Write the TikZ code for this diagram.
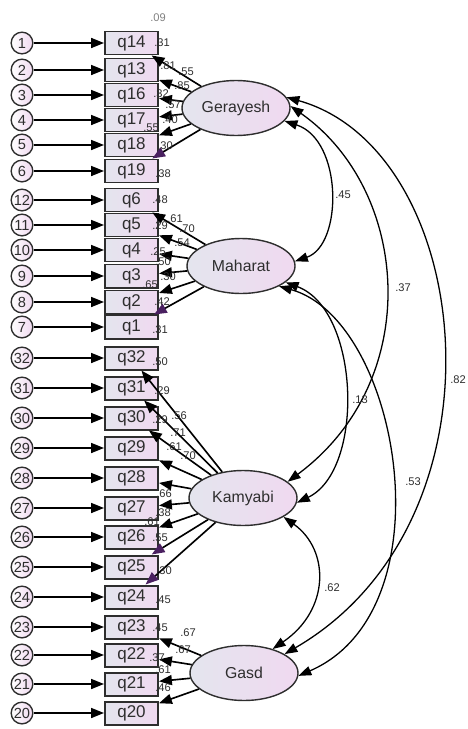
\documentclass[tikz,border=0pt]{standalone}
\usepackage{fontspec}
\setmainfont{Liberation Sans}
\usetikzlibrary{shapes.geometric,arrows.meta}
\definecolor{ink}{HTML}{2E2E2E}
\definecolor{fillL}{HTML}{E4E5EE}
\definecolor{fillR}{HTML}{F0D9F0}
\definecolor{headP}{HTML}{4A2060}
\begin{document}
\begin{tikzpicture}[x=0.03cm,y=-0.03cm,
    obsbox/.style={draw=ink,line width=1.7pt,left color=fillL,right color=fillR,
      minimum width=1.59cm,minimum height=0.69cm,inner sep=0pt,
      font=\fontsize{14.5}{16}\selectfont,text=ink},
    errc/.style={circle,draw=ink,line width=1.2pt,left color=white,right color=fillR,
      minimum size=0.65cm,inner sep=0pt,font=\fontsize{12.5}{13}\selectfont,text=ink},
    latent/.style={ellipse,draw=ink,line width=1.2pt,left color=fillL,right color=fillR,
      minimum width=3.24cm,minimum height=1.65cm,inner sep=0pt,
      font=\fontsize{13.5}{15}\selectfont,text=ink},
    arr/.style={line width=1.4pt,-{Triangle[length=11pt,width=8.5pt]}},
    parr/.style={line width=1.4pt,-{Triangle[length=11pt,width=8.5pt,color=headP]}},
    cov/.style={line width=1.1pt,{Triangle[length=11pt,width=8pt]}-{Triangle[length=11pt,width=8pt]}},
    val/.style={font=\fontsize{9.5}{10}\selectfont,text=ink,inner sep=0pt}]
  \useasboundingbox (0,0) rectangle (467,729);

  % error terms and observed items
  \foreach \y/\e/\q in {43/1/14,70/2/13,95/3/16,120/4/17,145/5/18,171/6/19,
      200/12/6,225/11/5,250/10/4,276/9/3,302/8/2,327/7/1,
      358/32/32,388/31/31,418/30/30,448/29/29,478/28/28,508/27/27,537/26/26,567/25/25,597/24/24,
      627/23/23,655/22/22,684/21/21,713/20/20}{
    \node[errc] (e\e) at (22,\y) {\e};
    \node[obsbox] (q\q) at (131.5,\y) {q\q};
    \draw[arr] (e\e) -- (q\q);
  }

  % latent factors
  \node[latent] (Ger) at (236,108) {Gerayesh};
  \node[latent] (Mah) at (241,266) {Maharat};
  \node[latent] (Kam) at (243,498) {Kamyabi};
  \node[latent] (Gas) at (244,673) {Gasd};

  % loadings
  \foreach \q in {14,13,16,17,18} \draw[arr] (Ger) -- (q\q);
  \draw[parr] (Ger) -- (q19);
  \foreach \q in {6,5,4,3,2} \draw[arr] (Mah) -- (q\q);
  \draw[parr] (Mah) -- (q1);
  \foreach \q in {32,31,30,29,28,27,26} \draw[arr] (Kam) -- (q\q);
  \draw[parr] (Kam) -- (q25);
  \draw[parr] (Kam) -- (q24);
  \foreach \q in {23,22,21,20} \draw[arr] (Gas) -- (q\q);

  % covariances
  \draw[cov] (Ger.-15) .. controls (343,140) and (343,245) .. (Mah.5);
  \draw[cov] (Ger.2) .. controls (410,190) and (425,380) .. (Kam.20);
  \draw[cov] (Ger.12) .. controls (475,150) and (515,520) .. (Gas.25);
  \draw[cov] (Mah.-20) .. controls (360,310) and (365,470) .. (Kam.-5);
  \draw[cov] (Mah.-28) .. controls (400,320) and (450,610) .. (Gas.-3);
  \draw[cov] (Kam.-25) .. controls (330,550) and (330,610) .. (Gas.40);
  \node[val] (c45) at (343,195) {.45};
  \node[val] (c37) at (403,288) {.37};
  \node[val] (c82) at (458,380) {.82};
  \node[val] (c13) at (360,400) {.13};
  \node[val] (c53) at (413,482) {.53};
  \node[val] (c62) at (332,588) {.62};

  % estimates next to the items
  \node[val,text=gray] (v0) at (158,18) {.09};
  \foreach [count=\i] \x/\y/\t in {162/43/.31,168/66/.81,186/72/.55,182/86/.85,161/94/.32,
      173/105/.57,170/120/.40,151/128/.55,165/146/.30,163/174/.38,
      160/200/.48,160/226/.29,175/219/.61,187/229/.70,182/243/.54,158/252/.25,
      163/262/.50,168/277/.30,150/285/.65,162/302/.42,160/330/.31,
      160/362/.50,162/391/.29,160/420/.29,179/416/.56,178/433/.71,174/447/.61,
      188/456/.70,164/494/.66,163/513/.38,152/522/.61,160/538/.55,164/571/.30,163/600/.45,
      160/628/.45,188/633/.67,183/650/.67,157/658/.37,163/670/.61,163/688/.46}
    \node[val] (v\i) at (\x,\y) {\t};
\end{tikzpicture}
\end{document}
